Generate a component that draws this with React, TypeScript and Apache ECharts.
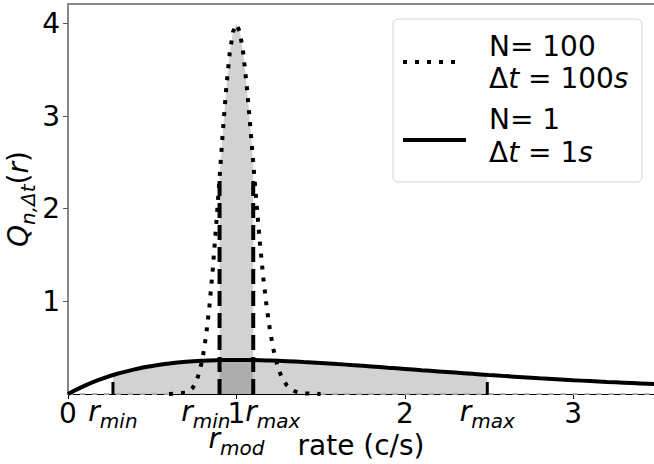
import React, { useEffect, useRef } from 'react';
import * as echarts from 'echarts';

const FONT = 'DejaVu Sans';
const FS = 28;
const FS_SUB = 20;

// tick values
const xTicks = [0, 1, 2, 3];
const yTicks = [1, 2, 3, 4];

// N = 1, Δt = 1 s curve (solid)
const solidX = [0, 0.1, 0.2, 0.3, 0.4, 0.5, 0.6, 0.7, 0.8, 0.9, 1.0, 1.1, 1.2, 1.3, 1.4, 1.5, 1.6, 1.7, 1.8, 1.9, 2.0, 2.1, 2.2, 2.3, 2.4, 2.5, 2.6, 2.7, 2.8, 2.9, 3.0, 3.1, 3.2, 3.3, 3.4, 3.5];
const solidY = [0, 0.091, 0.164, 0.222, 0.268, 0.303, 0.329, 0.348, 0.360, 0.366, 0.368, 0.366, 0.361, 0.354, 0.345, 0.335, 0.323, 0.311, 0.298, 0.284, 0.271, 0.257, 0.244, 0.231, 0.218, 0.205, 0.193, 0.182, 0.170, 0.160, 0.149, 0.140, 0.130, 0.122, 0.114, 0.106];

// N = 100, Δt = 100 s curve (dotted)
const dottedX = [0.6, 0.7, 0.72, 0.74, 0.76, 0.78, 0.8, 0.82, 0.84, 0.86, 0.88, 0.9, 0.92, 0.94, 0.96, 0.98, 1.0, 1.02, 1.04, 1.06, 1.08, 1.1, 1.12, 1.14, 1.16, 1.18, 1.2, 1.22, 1.24, 1.26, 1.28, 1.3, 1.32, 1.34, 1.36, 1.4, 1.5];
const dottedY = [0, 0.014, 0.031, 0.065, 0.128, 0.232, 0.394, 0.631, 0.95, 1.352, 1.823, 2.334, 2.845, 3.308, 3.675, 3.91, 3.99, 3.912, 3.691, 3.356, 2.944, 2.496, 2.048, 1.627, 1.253, 0.937, 0.681, 0.481, 0.331, 0.222, 0.145, 0.093, 0.058, 0.035, 0.021, 0.007, 0];
// flat (≈0) tails of the dotted curve
const dottedTailX = [[0, 0.6], [1.5, 3.5]];
const dottedTailY = [[0, 0], [0, 0]];

// interval bounds
const n1Bounds = [0.267, 2.49];
const n1BoundVals = [0.204, 0.206];
const n1TickHeight = 0.13;
const n100Bounds = [0.9, 1.1];
const n100BoundHeight = 2.35;

// special axis labels
const rLabelX = [0.267, 0.9, 1.1, 1.0, 2.49];
const rLabelSub = ['min', 'min', 'max', 'mod', 'max'];

const labelLayout = [
  { align: 'center', dx: 0, row: 0 },
  { align: 'right', dx: 11, row: 0 },
  { align: 'left', dx: -8, row: 0 },
  { align: 'center', dx: 0, row: 1 },
  { align: 'center', dx: 0, row: 0 },
];

export default function App() {
  const ref = useRef<HTMLDivElement>(null);
  useEffect(() => {
    if (!ref.current) return;
    const chart = echarts.init(ref.current, null, { renderer: 'svg' });

    const solid = solidX.map((x, i) => [x, solidY[i]]);
    const dotted = dottedX.map((x, i) => [x, dottedY[i]]);
    const n1Area = [
      [n1Bounds[0], n1BoundVals[0]],
      ...solid.filter((p) => p[0] > n1Bounds[0] && p[0] < n1Bounds[1]),
      [n1Bounds[1], n1BoundVals[1]],
    ];
    const n100Area = dotted.filter((p) => p[0] >= n100Bounds[0] - 1e-9 && p[0] <= n100Bounds[1] + 1e-9);

    const richR = {
      r: { fontFamily: FONT, fontSize: FS, fontStyle: 'italic', color: '#000', verticalAlign: 'bottom', padding: [0, 0, 6, 0] },
      s: { fontFamily: FONT, fontSize: FS_SUB, fontStyle: 'italic', color: '#000', verticalAlign: 'bottom' },
    };
    const richLegend = {
      u: { fontFamily: FONT, fontSize: FS, fill: '#000' },
      i: { fontFamily: FONT, fontSize: FS, fontStyle: 'italic', fill: '#000' },
    };

    const option: any = {
      animation: false,
      backgroundColor: '#fff',
      grid: { left: 68, top: 4, right: 0, bottom: 70, outerBoundsMode: 'none', containLabel: false },
      xAxis: [
        {
          type: 'value',
          min: 0,
          max: 3.48,
          interval: 1,
          name: 'rate (c/s)',
          nameLocation: 'middle',
          nameGap: 31,
          nameTextStyle: { fontFamily: FONT, fontSize: FS, color: '#000' },
          axisLine: { show: true, onZero: false, lineStyle: { color: '#000', width: 1 } },
          axisTick: { show: true, length: 5, customValues: xTicks, lineStyle: { color: '#000' } },
          axisLabel: { customValues: xTicks, fontFamily: FONT, fontSize: FS, color: '#000', margin: 5 },
          splitLine: { show: false },
        },
        {
          type: 'value',
          position: 'top',
          min: 0,
          max: 3.48,
          axisLine: { show: true, onZero: false, lineStyle: { color: '#888', width: 2 } },
          axisTick: { show: false },
          axisLabel: { show: false },
          splitLine: { show: false },
        },
      ],
      yAxis: {
        type: 'value',
        min: 0,
        max: 4.21,
        interval: 1,
        name: '{i|Q}{s|n,Δt}{u|(}{i|r}{u|)}',
        nameLocation: 'middle',
        nameRotate: 90,
        nameGap: 30,
        nameMoveOverlap: false,
        nameTextStyle: {
          rich: {
            i: { fontFamily: FONT, fontSize: FS, fontStyle: 'italic', color: '#000', verticalAlign: 'bottom', padding: [0, 0, 6, 0] },
            u: { fontFamily: FONT, fontSize: FS, color: '#000', verticalAlign: 'bottom', padding: [0, 0, 6, 0] },
            s: { fontFamily: FONT, fontSize: FS_SUB, fontStyle: 'italic', color: '#000', verticalAlign: 'bottom' },
          },
        },
        axisLine: { show: true, onZero: false, lineStyle: { color: '#888', width: 2 } },
        axisTick: { show: true, length: 5, customValues: yTicks, lineStyle: { color: '#555' } },
        axisLabel: { customValues: yTicks, fontFamily: FONT, fontSize: FS, color: '#000', margin: 8 },
        splitLine: { show: false },
      },
      series: [
        {
          type: 'line',
          data: n1Area,
          symbol: 'none',
          lineStyle: { width: 0 },
          areaStyle: { color: 'rgba(0,0,0,0.25)' },
          z: 1,
        },
        {
          type: 'line',
          data: n100Area,
          symbol: 'none',
          lineStyle: { width: 0 },
          areaStyle: { color: 'rgba(0,0,0,0.25)' },
          z: 1,
        },
        ...dottedTailX.map((xs, k) => ({
          type: 'line',
          data: xs.map((x, i) => [x, dottedTailY[k][i]]),
          symbol: 'none',
          lineStyle: { color: '#aaa', width: 2, type: [5, 7], cap: 'butt' },
          z: 2,
        })),
        {
          type: 'line',
          data: dotted,
          symbol: 'none',
          lineStyle: { color: '#000', width: 4, type: [4, 8], cap: 'butt' },
          z: 3,
        },
        {
          type: 'line',
          data: solid,
          symbol: 'none',
          smooth: true,
          lineStyle: { color: '#000', width: 4 },
          z: 3,
        },
        ...n100Bounds.map((b) => ({
          type: 'line',
          data: [[b, 0], [b, n100BoundHeight]],
          symbol: 'none',
          lineStyle: { color: '#000', width: 4, type: [15, 7], cap: 'butt' },
          z: 4,
        })),
        ...n1Bounds.map((b) => ({
          type: 'line',
          data: [[b, 0], [b, n1TickHeight]],
          symbol: 'none',
          lineStyle: { color: '#000', width: 3 },
          z: 4,
        })),
        {
          type: 'custom',
          clip: false,
          data: rLabelX.map((x) => [x, 0]),
          renderItem: (params: any, api: any) => {
            const l = labelLayout[params.dataIndex];
            const p = api.coord([api.value(0), 0]);
            return {
              type: 'text',
              x: p[0] + l.dx,
              y: p[1] + 3 + l.row * 27,
              style: {
                text: `{r|r}{s|${rLabelSub[params.dataIndex]}}`,
                rich: richR,
                align: l.align,
                verticalAlign: 'top',
              },
            };
          },
          z: 5,
        },
      ],
      graphic: [
        {
          type: 'rect',
          z: 100,
          shape: { x: 393, y: 19, width: 249, height: 163, r: 5 },
          style: { fill: 'rgba(255,255,255,0.8)', stroke: '#d4d4d4', lineWidth: 1 },
        },
        {
          type: 'line',
          z: 101,
          shape: { x1: 403, y1: 62, x2: 460, y2: 62 },
          style: { stroke: '#000', lineWidth: 4, lineDash: [4, 8] },
        },
        {
          type: 'line',
          z: 101,
          shape: { x1: 403, y1: 140, x2: 466, y2: 140 },
          style: { stroke: '#000', lineWidth: 4 },
        },
        {
          type: 'text',
          z: 101,
          x: 489,
          y: 46,
          style: { text: 'N= 100', font: `${FS}px "${FONT}"`, fill: '#000', verticalAlign: 'middle' },
        },
        {
          type: 'text',
          z: 101,
          x: 489,
          y: 78,
          style: { text: '{u|Δ}{i|t}{u| = 100}{i|s}', verticalAlign: 'middle', rich: richLegend },
        },
        {
          type: 'text',
          z: 101,
          x: 489,
          y: 119,
          style: { text: 'N= 1', font: `${FS}px "${FONT}"`, fill: '#000', verticalAlign: 'middle' },
        },
        {
          type: 'text',
          z: 101,
          x: 489,
          y: 152,
          style: { text: '{u|Δ}{i|t}{u| = 1}{i|s}', verticalAlign: 'middle', rich: richLegend },
        },
      ],
    };

    chart.setOption(option);
    return () => chart.dispose();
  }, []);

  return <div ref={ref} style={{ position: 'absolute', left: 0, top: 0, width: 654, height: 464 }} />;
}
